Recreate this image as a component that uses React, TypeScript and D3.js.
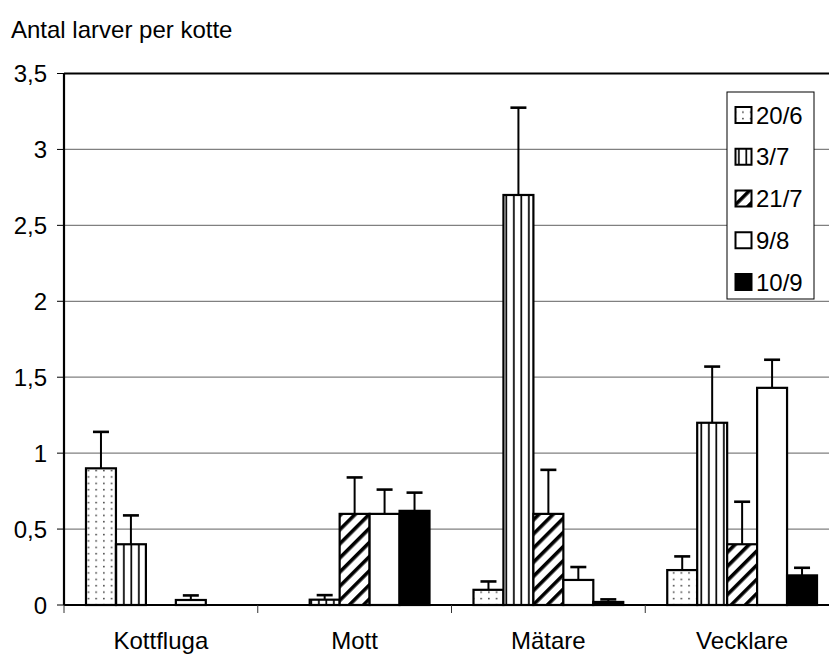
import React from 'react';
import * as d3 from 'd3';

// Larvae per cone, per insect group, by sampling date
const categories = ['Kottfluga', 'Mott', 'Mätare', 'Vecklare'];
const seriesNames = ['20/6', '3/7', '21/7', '9/8', '10/9'];

const mean20_6 = [0.9, 0, 0.1, 0.23];
const mean3_7 = [0.4, 0.035, 2.7, 1.2];
const mean21_7 = [0, 0.6, 0.6, 0.4];
const mean9_8 = [0.033, 0.6, 0.165, 1.43];
const mean10_9 = [0, 0.62, 0.02, 0.195];

const err20_6 = [0.24, 0, 0.055, 0.09];
const err3_7 = [0.19, 0.03, 0.575, 0.37];
const err21_7 = [0, 0.24, 0.29, 0.28];
const err9_8 = [0.03, 0.16, 0.085, 0.185];
const err10_9 = [0, 0.12, 0.017, 0.05];

const yTicks = [0, 0.5, 1, 1.5, 2, 2.5, 3, 3.5];
const yTitle = 'Antal larver per kotte';

const means = [mean20_6, mean3_7, mean21_7, mean9_8, mean10_9];
const errs = [err20_6, err3_7, err21_7, err9_8, err10_9];
const fills = ['url(#dots)', 'url(#vlines)', 'url(#diag)', '#ffffff', '#000000'];

const W = 829;
const H = 655;
const left = 64;
const top = 73.5;
const bottom = 605;
const right = 839;
const font = '"Liberation Sans", Arial, sans-serif';

export default function App() {
  const x = d3.scaleBand<string>().domain(categories).range([left, right]).padding(0);
  const inset = x.bandwidth() * 0.1135;
  const xs = d3
    .scaleBand<string>()
    .domain(seriesNames)
    .range([inset, x.bandwidth() - inset])
    .padding(0);
  const y = d3.scaleLinear().domain([0, 3.5]).range([bottom, top]);
  const fmt = (v: number) => String(v).replace('.', ',');
  const bw = xs.bandwidth();
  const capHalf = 8;

  const legendX = 727;
  const legendY = 92;
  const legendW = 87;
  const legendH = 207;
  const rowStep = 41.75;

  return (
    <svg
      width={W}
      height={H}
      style={{ position: 'absolute', left: 0, top: 0, background: '#fff' }}
      fontFamily={font}
    >
      <defs>
        <pattern id="dots" patternUnits="userSpaceOnUse" width={7.7} height={6.4}>
          <rect width={7.7} height={6.4} fill="#fff" />
          <rect x={3} y={2.6} width={1.5} height={1.5} fill="#333" />
        </pattern>
        <pattern id="vlines" patternUnits="userSpaceOnUse" width={7.5} height={10}>
          <rect width={7.5} height={10} fill="#fff" />
          <rect x={3} y={0} width={1.7} height={10} fill="#000" />
        </pattern>
        <pattern
          id="diag"
          patternUnits="userSpaceOnUse"
          width={10}
          height={10}
          patternTransform="rotate(45)"
        >
          <rect width={10} height={10} fill="#fff" />
          <rect x={3} y={0} width={3.6} height={10} fill="#000" />
        </pattern>
      </defs>

      <rect x={0} y={0} width={W} height={H} fill="#fff" />

      {/* y axis title */}
      <text x={11} y={38} fontSize={24} fill="#000">
        {yTitle}
      </text>

      {/* gridlines */}
      {yTicks
        .filter((t) => t > 0 && t < 3.5)
        .map((t) => (
          <line key={t} x1={left} x2={right} y1={y(t)} y2={y(t)} stroke="#808080" strokeWidth={1.2} />
        ))}

      {/* bars */}
      {categories.map((c, ci) =>
        seriesNames.map((s, si) => {
          const v = means[si][ci];
          if (v <= 0) return null;
          const bx = (x(c) as number) + (xs(s) as number);
          return (
            <rect
              key={c + s}
              x={bx}
              y={y(v)}
              width={bw}
              height={bottom - y(v)}
              fill={fills[si]}
              stroke="#000"
              strokeWidth={2.2}
            />
          );
        })
      )}

      {/* error bars */}
      {categories.map((c, ci) =>
        seriesNames.map((s, si) => {
          const v = means[si][ci];
          const e = errs[si][ci];
          if (e <= 0) return null;
          const cx = (x(c) as number) + (xs(s) as number) + bw / 2;
          return (
            <g key={'e' + c + s} stroke="#000">
              <line x1={cx} x2={cx} y1={y(v)} y2={y(v + e)} strokeWidth={2} />
              <line x1={cx - capHalf} x2={cx + capHalf} y1={y(v + e)} y2={y(v + e)} strokeWidth={2.6} />
            </g>
          );
        })
      )}

      {/* plot frame */}
      <line x1={left} x2={right} y1={top} y2={top} stroke="#000" strokeWidth={2.2} />
      <line x1={left} x2={left} y1={top} y2={bottom} stroke="#000" strokeWidth={2.2} />
      <line x1={left} x2={right} y1={bottom} y2={bottom} stroke="#000" strokeWidth={2.2} />

      {/* y ticks & labels */}
      {yTicks.map((t) => (
        <g key={'yt' + t}>
          <line x1={left - 7} x2={left} y1={y(t)} y2={y(t)} stroke="#000" strokeWidth={1} />
          <text x={47} y={y(t) + 8.5} fontSize={24} textAnchor="end" fill="#000">
            {fmt(t)}
          </text>
        </g>
      ))}

      {/* x ticks & labels */}
      {categories.map((c) => (
        <line
          key={'xt' + c}
          x1={x(c) as number}
          x2={x(c) as number}
          y1={bottom}
          y2={bottom + 8}
          stroke="#333"
          strokeWidth={1}
        />
      ))}
      {categories.map((c) => (
        <text
          key={'xl' + c}
          x={(x(c) as number) + x.bandwidth() / 2}
          y={649}
          fontSize={24}
          textAnchor="middle"
          fill="#000"
        >
          {c}
        </text>
      ))}

      {/* legend */}
      <rect x={legendX} y={legendY} width={legendW} height={legendH} fill="#fff" stroke="#000" strokeWidth={1} />
      {seriesNames.map((s, si) => {
        const cy = legendY + 23 + si * rowStep;
        return (
          <g key={'lg' + s}>
            <rect x={735.5} y={cy - 8} width={16} height={16} fill={fills[si]} stroke="#000" strokeWidth={2} />
            <text x={756} y={cy + 8.5} fontSize={24} fill="#000">
              {s}
            </text>
          </g>
        );
      })}
    </svg>
  );
}
